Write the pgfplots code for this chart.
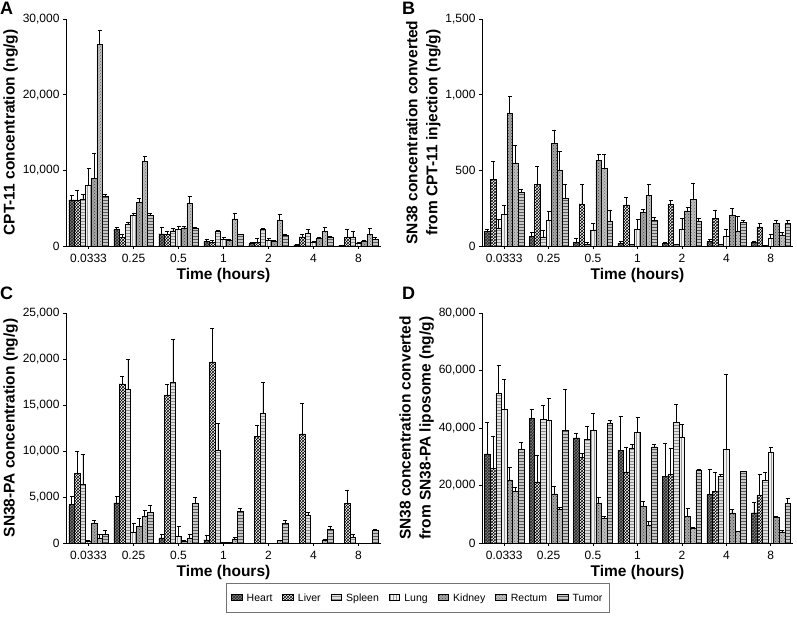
\documentclass[border=0pt]{standalone}
\usepackage{pgfplots}
\pgfplotsset{compat=1.18}
\usepackage{pgfplotstable}
\usetikzlibrary{patterns}
\usepackage{fontspec}
\setmainfont{Liberation Sans}
\setsansfont{Liberation Sans}

% columns: x, Heart, err, Liver, err, Spleen, err, Lung, err, Kidney, err, Rectum, err, Tumor, err
\pgfplotstableread{
x H He L Le S Se U Ue K Ke R Re T Te
0 6100 600 6100 1300 6200 600 8000 2300 8900 3400 26600 1900 6600 200
1 2200 300 1100 500 2900 300 4000 400 5800 500 11200 700 4000 300
2 1600 900 1500 500 2000 300 2200 400 2400 200 5600 1000 2300 200
3 600 300 450 350 2000 100 900 300 700 200 3600 800 1500 100
4 300 200 500 500 2200 100 800 200 650 100 3400 800 1400 200
5 150 50 1200 400 1700 500 500 100 1000 200 1900 600 1200 100
6 100 50 1100 1100 1200 700 400 100 650 150 1500 800 900 200
}\tabA

\pgfplotstableread{
x H He L Le S Se U Ue K Ke R Re T Te
0 95 13 441 117 119 55 207 62 876 114 545 121 353 24
1 62 26 406 119 60 44 168 59 677 86 503 121 315 91
2 26 27 278 128 13 13 106 42 565 39 512 97 161 73
3 15 18 271 53 9 4 113 63 221 24 335 75 168 20
4 15 7 276 28 9 0 110 75 232 22 309 108 161 20
5 29 17 181 55 9 0 64 49 203 46 99 97 154 18
6 22 7 126 22 4 0 51 24 148 22 71 17 148 22
}\tabB

\pgfplotstableread{
x H He L Le S Se U Ue K Ke R Re T Te
0 4200 900 7600 2400 6400 3200 200 100 2200 300 500 500 900 500
1 4350 750 17300 800 16700 3300 1200 900 1800 900 2900 700 3300 800
2 550 450 16100 1200 17500 4600 700 1100 200 100 550 450 4350 650
3 350 550 19700 3600 10100 2900 50 0 50 0 450 150 3400 400
4 0 0 11600 1200 14100 3400 0 0 0 0 300 50 2200 300
5 0 0 11850 3300 3000 400 0 0 0 0 350 50 1500 300
6 0 0 4300 1400 600 400 0 0 0 0 0 0 1400 150
}\tabC

\pgfplotstableread{
x H He L Le S Se U Ue K Ke R Re T Te
0 31000 11000 26000 11000 52000 10000 46500 10500 22000 4500 18000 1500 32700 2300
1 43300 3400 21300 9200 43000 5000 42700 7600 17100 2700 11800 700 39300 14200
2 36600 1600 29900 1200 36000 4500 39100 5900 14000 1800 8600 800 41700 1000
3 32300 11700 24700 8600 33100 1100 38600 5100 12800 1800 6300 1300 33400 900
4 23100 11700 23900 9100 42100 6100 36800 4500 9200 2800 5300 200 25200 300
5 17000 8800 17900 6900 23300 800 32700 26000 10500 1300 4000 200 24900 200
6 10500 3800 16500 7500 21900 2900 31500 1800 8900 300 3800 700 13700 1800
}\tabD

\pgfplotsset{
  sH/.style={draw=black, line width=0.5pt, fill=black!50, postaction={pattern=crosshatch, pattern color=black!85}},
  sL/.style={draw=black, line width=0.5pt, fill=white, postaction={pattern=crosshatch, pattern color=black}},
  sS/.style={draw=black, line width=0.5pt, fill=black!12, postaction={pattern=horizontal lines, pattern color=black!45}},
  sU/.style={draw=black, line width=0.5pt, fill=black!6, postaction={pattern=vertical lines, pattern color=black!40}},
  sK/.style={draw=black, line width=0.5pt, fill=black!35, postaction={pattern=crosshatch dots, pattern color=black!75}},
  sR/.style={draw=black, line width=0.5pt, fill=black!25, postaction={pattern=crosshatch dots, pattern color=black!60}},
  sT/.style={draw=black, line width=0.5pt, fill=black!22, postaction={pattern=horizontal lines, pattern color=black!65}},
  panel/.style={
    scale only axis, ybar=0pt, bar width=5.6pt,
    xmin=-0.5, xmax=6.5, ymin=0,
    axis x line*=bottom, axis y line*=left,
    axis line style={black, line width=0.6pt, -},
    xtick={0,...,6}, xticklabels={0.0333,0.25,0.5,1,2,4,8},
    tick style={black, line width=0.6pt}, tick align=outside,
    major tick length=3pt,
    ticklabel style={font=\fontsize{12}{14}\selectfont},
    xticklabel style={yshift=-2pt},
    label style={font=\fontsize{15.5}{20}\selectfont\bfseries},
    xlabel={Time (hours)},
    xlabel style={yshift=1.5pt},
    ylabel style={yshift=-2pt},
    scaled y ticks=false,
    y tick label style={/pgf/number format/.cd, 1000 sep={,}},
    /pgf/number format/assume math mode=true,
    error bars/y dir=plus, error bars/y explicit,
    error bars/error bar style={black, line width=0.7pt},
    area legend,
  },
}

\newcommand{\allbars}[1]{%
  \addplot[sH] table[x=x, y=H, y error=He] {#1};
  \addplot[sL] table[x=x, y=L, y error=Le] {#1};
  \addplot[sS] table[x=x, y=S, y error=Se] {#1};
  \addplot[sU] table[x=x, y=U, y error=Ue] {#1};
  \addplot[sK] table[x=x, y=K, y error=Ke] {#1};
  \addplot[sR] table[x=x, y=R, y error=Re] {#1};
  \addplot[sT] table[x=x, y=T, y error=Te] {#1};
}

\begin{document}
\begin{tikzpicture}
\path[use as bounding box] (0,0) rectangle (797pt,630pt);

\begin{axis}[panel, at={(66pt,384pt)}, anchor=south west, width=315pt, height=227pt,
  ymax=30000, ytick={0,10000,20000,30000},
  ylabel={CPT-11 concentration (ng/g)}]
\allbars{\tabA}
\end{axis}

\begin{axis}[panel, at={(482pt,384pt)}, anchor=south west, width=311pt, height=227pt,
  ymax=1500, ytick={0,500,1000,1500},
  ylabel style={align=center},
  ylabel={SN38 concentration converted\\from CPT-11 injection (ng/g)}]
\allbars{\tabB}
\end{axis}

\begin{axis}[panel, at={(66pt,87pt)}, anchor=south west, width=315pt, height=230pt,
  ymax=25000, ytick={0,5000,...,25000},
  ylabel={SN38-PA concentration (ng/g)},
  legend columns=7,
  legend style={at={(1.117,-0.24)}, anchor=center, draw=black!55, line width=0.7pt,
    font=\fontsize{10.5}{12.5}\selectfont, inner xsep=5pt, inner ysep=8pt,
    /tikz/every even column/.append style={column sep=8pt}},
  legend image code/.code={\draw[#1] (0pt,-2.5pt) rectangle (10.5pt,3.5pt); \path (13pt,0pt);}]
\allbars{\tabC}
\legend{Heart, Liver, Spleen, Lung, Kidney, Rectum, Tumor}
\end{axis}

\begin{axis}[panel, at={(482pt,87pt)}, anchor=south west, width=311pt, height=230pt,
  ymax=80000, ytick={0,20000,...,80000},
  ylabel style={align=center},
  ylabel={SN38 concentration converted\\from SN38-PA liposome (ng/g)}]
\allbars{\tabD}
\end{axis}

\node[font=\fontsize{18}{18}\selectfont\bfseries, anchor=north west, inner sep=0pt] at (0pt,628.5pt) {A};
\node[font=\fontsize{18}{18}\selectfont\bfseries, anchor=north west, inner sep=0pt] at (402pt,628.5pt) {B};
\node[font=\fontsize{18}{18}\selectfont\bfseries, anchor=north west, inner sep=0pt] at (0pt,343pt) {C};
\node[font=\fontsize{18}{18}\selectfont\bfseries, anchor=north west, inner sep=0pt] at (402pt,343pt) {D};
\end{tikzpicture}
\end{document}
